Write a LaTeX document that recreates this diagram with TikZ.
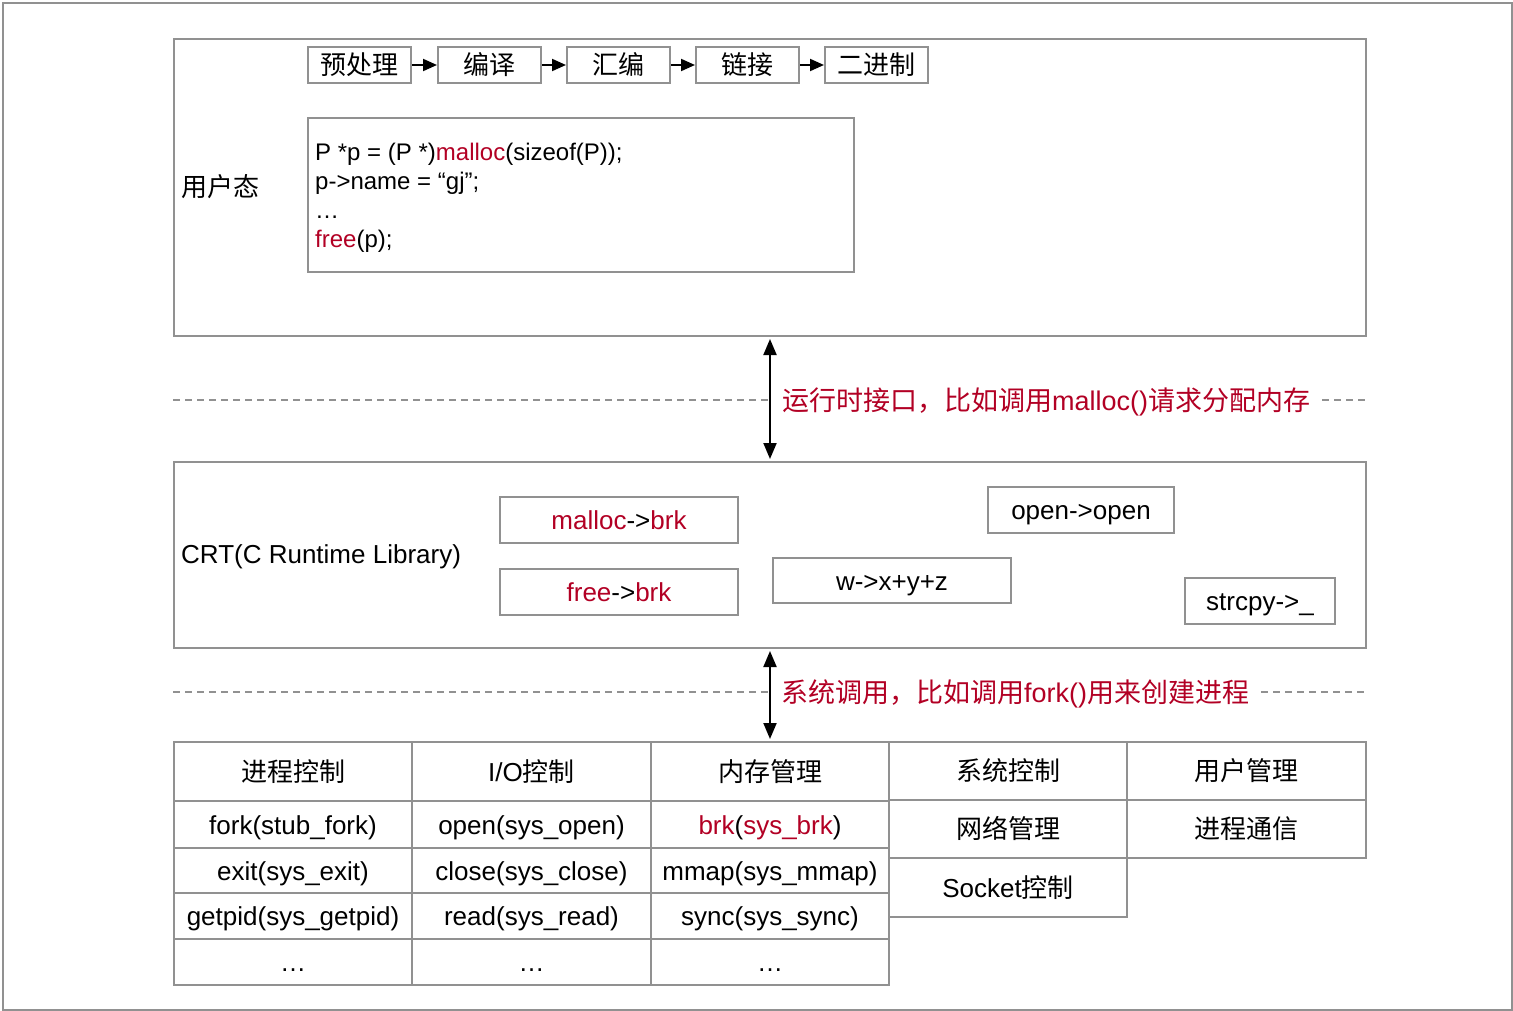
\documentclass[tikz,border=0pt]{standalone}
\usepackage{fontspec}
\setmainfont{Liberation Sans}
\newfontfamily\cjk{Noto Sans CJK SC}
\usetikzlibrary{arrows.meta}
\definecolor{linegray}{RGB}{145,145,145}
\definecolor{hired}{RGB}{178,0,36}
\newcommand{\zh}[1]{{\cjk #1}}
\newcommand{\hl}[1]{\textcolor{hired}{#1}}
\tikzset{
  frame/.style={draw=linegray, line width=2pt},
  box/.style={frame, inner sep=0pt, anchor=north west, align=center,
    font=\fontsize{26}{31}\selectfont, text height=22.4pt, text depth=3.1pt},
  lbl/.style={inner sep=0pt, font=\fontsize{26}{31}\selectfont,
    text height=22.4pt, text depth=3.1pt},
  redlbl/.style={inner xsep=12pt, inner ysep=0pt, anchor=west, text=hired,
    font=\fontsize{27}{32}\selectfont, text height=23.2pt, text depth=3.2pt},
  sep/.style={draw=linegray, line width=1.5pt, dash pattern=on 7pt off 5pt},
  flow/.style={draw=black, line width=2pt, -{Triangle[length=14pt,width=12pt]}},
  link/.style={draw=black, line width=2pt,
    {Triangle[length=16pt,width=13pt]}-{Triangle[length=16pt,width=13pt]},
    shorten <=2pt, shorten >=2pt},
}
\begin{document}
\begin{tikzpicture}[x=1pt,y=-1pt]
\useasboundingbox (0,0) rectangle (1513,1011);
\node[frame, inner sep=0pt, anchor=north west, minimum width=1509pt, minimum height=1007pt] (outer) at (2,2) {};

% user space
\node[box, minimum width=1192pt, minimum height=297pt] (user) at (173,38) {};
\node[lbl, anchor=west] (userlbl) at (181,187) {\zh{用户态}};

% build pipeline
\node[box, minimum width=103pt, minimum height=36pt] (pre) at (307,46) {\zh{预处理}};
\node[box, minimum width=103pt, minimum height=36pt] (comp) at (437,46) {\zh{编译}};
\node[box, minimum width=103pt, minimum height=36pt] (asm) at (566,46) {\zh{汇编}};
\node[box, minimum width=103pt, minimum height=36pt] (lnk) at (695,46) {\zh{链接}};
\node[box, minimum width=103pt, minimum height=36pt] (bin) at (824,46) {\zh{二进制}};
\draw[flow] (pre) -- (comp);
\draw[flow] (comp) -- (asm);
\draw[flow] (asm) -- (lnk);
\draw[flow] (lnk) -- (bin);

% source snippet
\node[box, minimum width=546pt, minimum height=154pt] (code) at (307,117) {};
\node[inner sep=0pt, anchor=north west, align=left, font=\fontsize{24}{29}\selectfont] (codetxt) at (315,143)
  {P *p = (P *)\hl{malloc}(sizeof(P));\\
   p->name = “gj”;\\
   …\\
   \hl{free}(p);};

% runtime library
\node[box, minimum width=1192pt, minimum height=186pt] (crt) at (173,461) {};
\node[lbl, anchor=west] (crtlbl) at (181,554) {CRT(C Runtime Library)};
\node[box, minimum width=238pt, minimum height=46pt] (mb) at (499,496) {\hl{malloc}->\hl{brk}};
\node[box, minimum width=238pt, minimum height=46pt] (fb) at (499,568) {\hl{free}->\hl{brk}};
\node[box, minimum width=238pt, minimum height=45pt] (wb) at (772,557) {w->x+y+z};
\node[box, minimum width=186pt, minimum height=46pt] (ob) at (987,486) {open->open};
\node[box, minimum width=150pt, minimum height=46pt] (sb) at (1184,577) {strcpy->\_};

% runtime interface
\draw[link] (user.south) -- (crt.north);
\coordinate (dl1) at (173,400);
\coordinate (dr1) at (1365,400);
\node[redlbl] (rt) at (770,400) {\zh{运行时接口，比如调用}malloc()\zh{请求分配内存}};
\draw[sep] (dl1) -- (rt.west);
\draw[sep] (rt.east) -- (dr1);

% system calls table
\node[box, minimum width=238pt, minimum height=59pt] (h1) at (173,741) {\zh{进程控制}};
\node[box, minimum width=239pt, minimum height=59pt] (h2) at (411,741) {I/O\zh{控制}};
\node[box, minimum width=238pt, minimum height=59pt] (h3) at (650,741) {\zh{内存管理}};
\node[box, minimum width=238pt, minimum height=47pt] (a1) at (173,800) {fork(stub\_fork)};
\node[box, minimum width=239pt, minimum height=47pt] (a2) at (411,800) {open(sys\_open)};
\node[box, minimum width=238pt, minimum height=47pt] (a3) at (650,800) {\hl{brk}(\hl{sys\_brk})};
\node[box, minimum width=238pt, minimum height=45pt] (b1) at (173,847) {exit(sys\_exit)};
\node[box, minimum width=239pt, minimum height=45pt] (b2) at (411,847) {close(sys\_close)};
\node[box, minimum width=238pt, minimum height=45pt] (b3) at (650,847) {mmap(sys\_mmap)};
\node[box, minimum width=238pt, minimum height=46pt] (c1) at (173,892) {getpid(sys\_getpid)};
\node[box, minimum width=239pt, minimum height=46pt] (c2) at (411,892) {read(sys\_read)};
\node[box, minimum width=238pt, minimum height=46pt] (c3) at (650,892) {sync(sys\_sync)};
\node[box, minimum width=238pt, minimum height=46pt] (d1) at (173,938) {…};
\node[box, minimum width=239pt, minimum height=46pt] (d2) at (411,938) {…};
\node[box, minimum width=238pt, minimum height=46pt] (d3) at (650,938) {…};

\node[box, minimum width=238pt, minimum height=58pt] (r1) at (888,741) {\zh{系统控制}};
\node[box, minimum width=239pt, minimum height=58pt] (r2) at (1126,741) {\zh{用户管理}};
\node[box, minimum width=238pt, minimum height=58pt] (r3) at (888,799) {\zh{网络管理}};
\node[box, minimum width=239pt, minimum height=58pt] (r4) at (1126,799) {\zh{进程通信}};
\node[box, minimum width=238pt, minimum height=59pt] (r5) at (888,857) {Socket\zh{控制}};

% system call interface
\draw[link] (crt.south) -- (h3.north);
\coordinate (dl2) at (173,692);
\coordinate (dr2) at (1365,692);
\node[redlbl] (sc) at (769,692) {\zh{系统调用，比如调用}fork()\zh{用来创建进程}};
\draw[sep] (dl2) -- (sc.west);
\draw[sep] (sc.east) -- (dr2);
\end{tikzpicture}
\end{document}
